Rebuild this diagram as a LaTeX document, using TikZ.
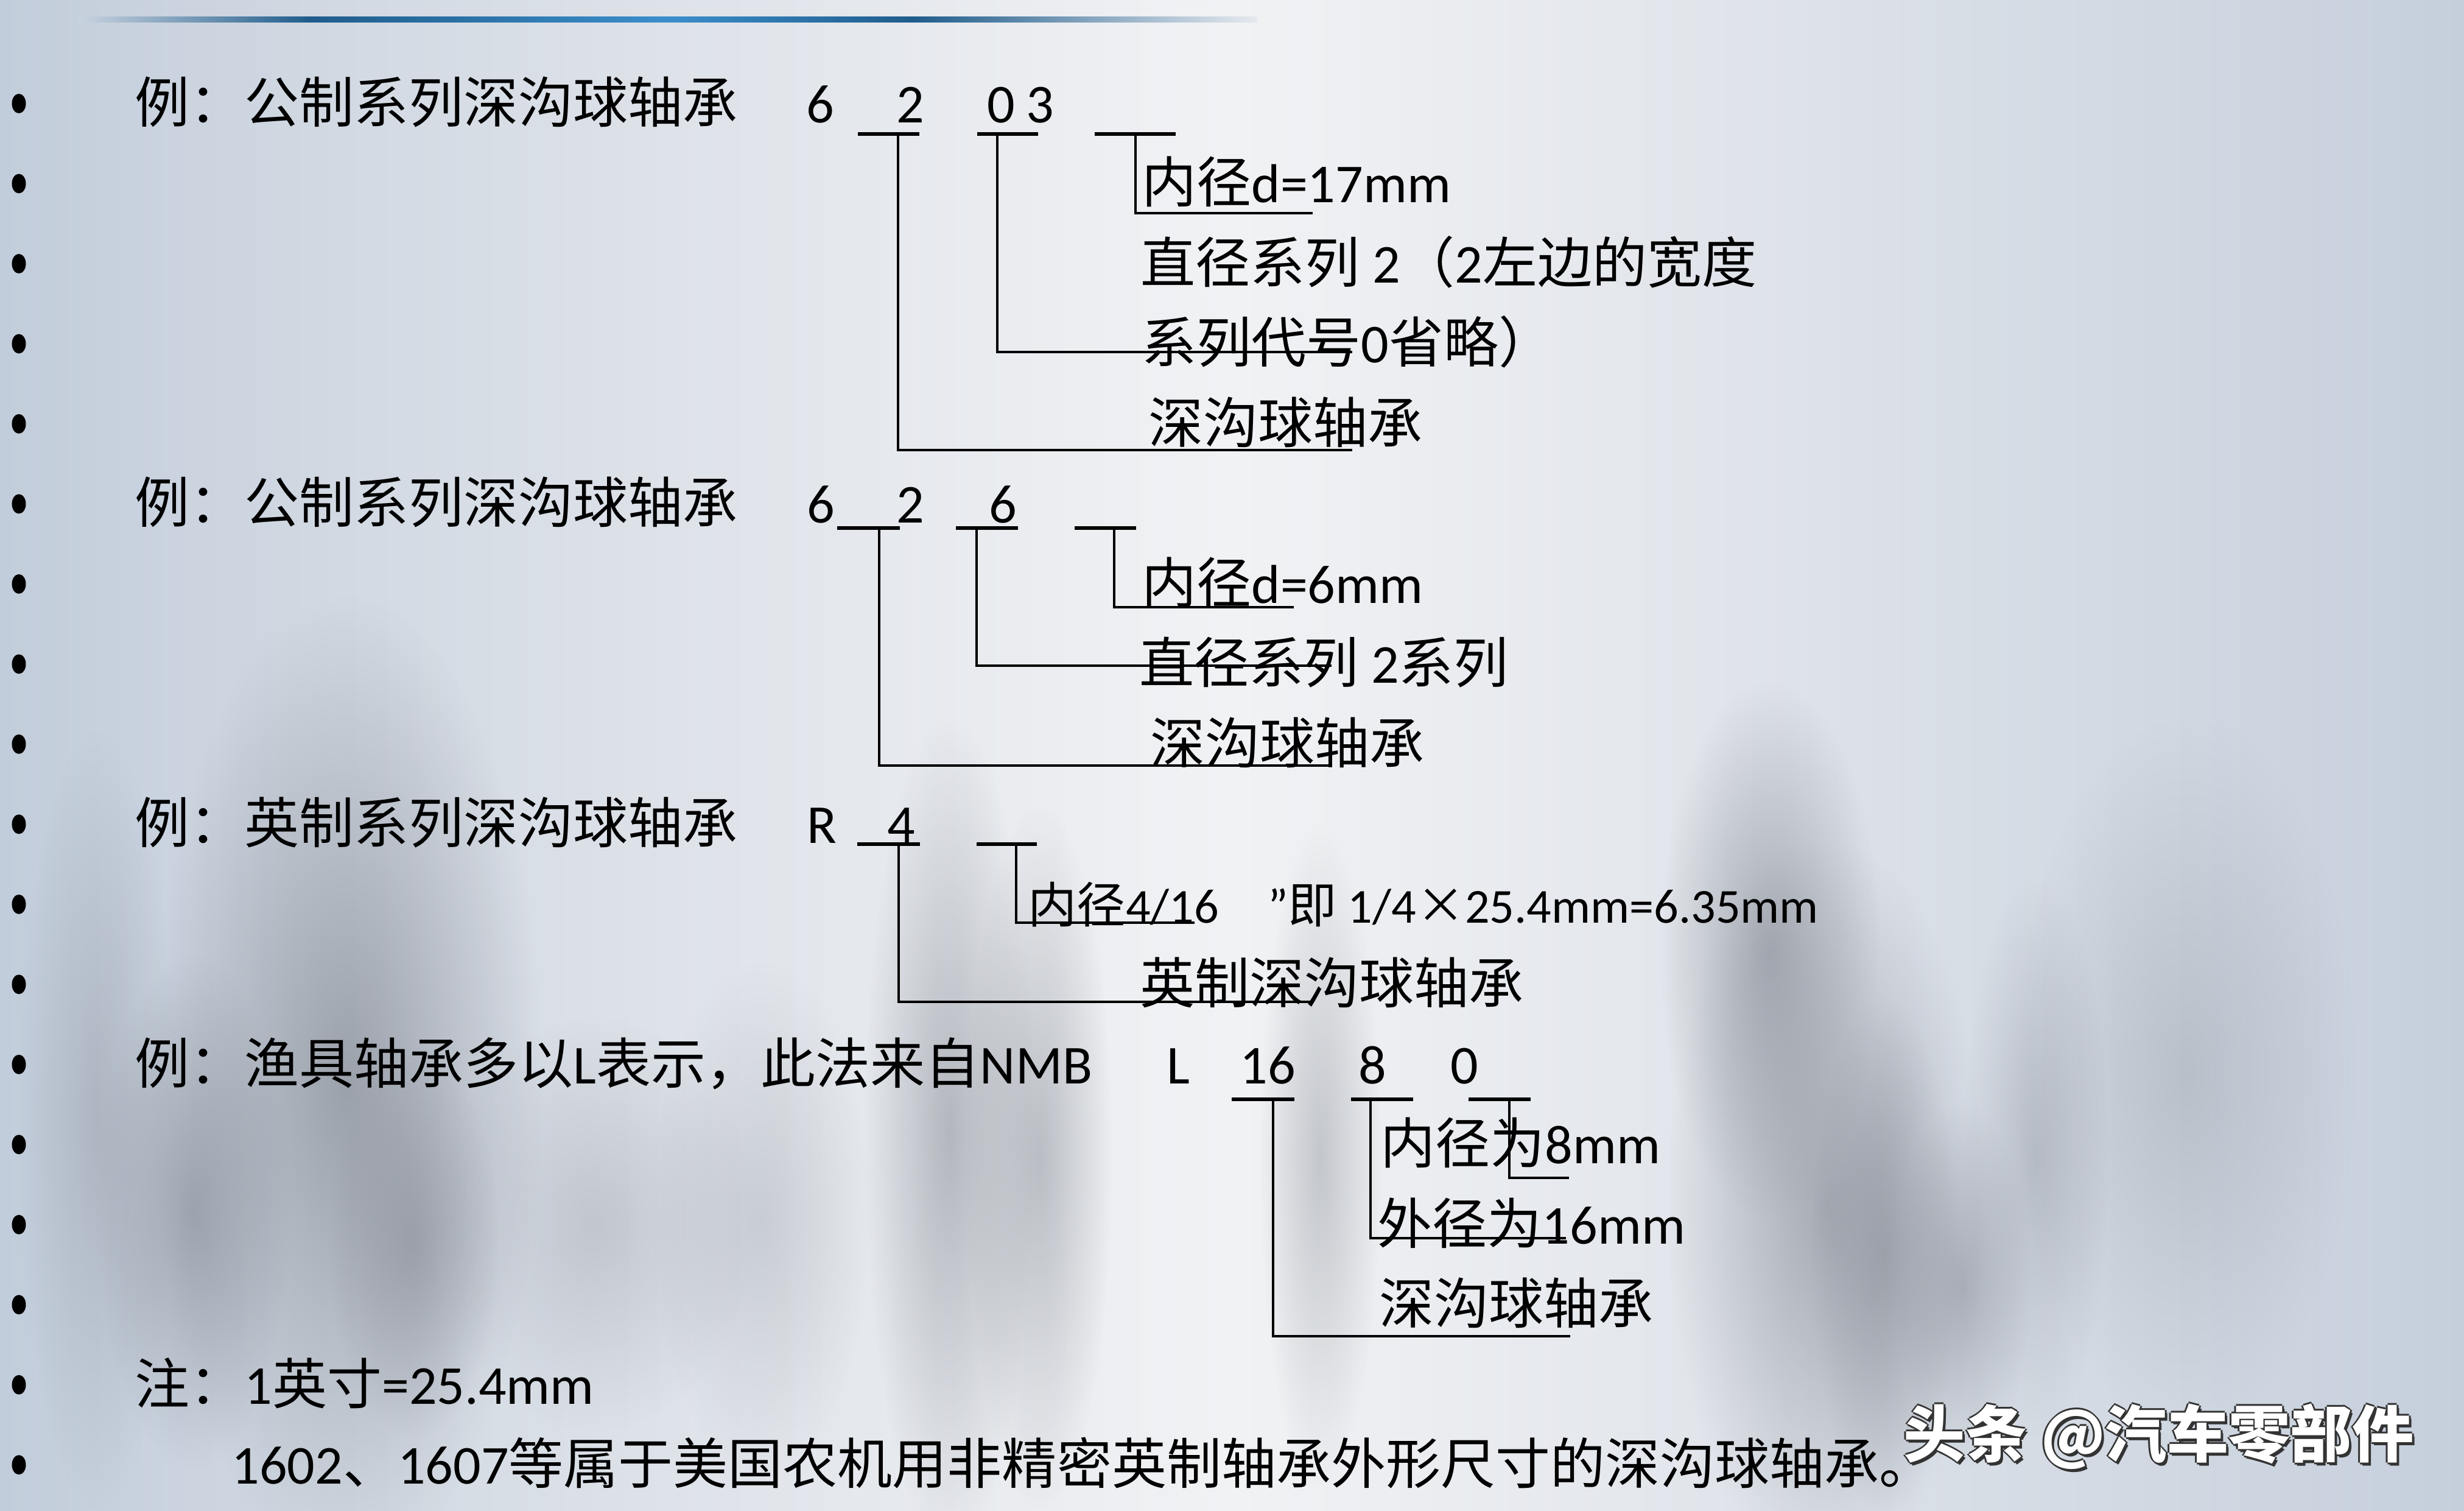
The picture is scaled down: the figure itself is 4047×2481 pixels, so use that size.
\documentclass[tikz,border=0pt]{standalone}
\usepackage{fontspec}
\setmainfont{Carlito}
\newfontfamily\zhfont{Noto Sans CJK SC}
\usetikzlibrary{fadings}
\newcommand\zh[1]{{\zhfont #1}}
\definecolor{bgL}{HTML}{C2CDDB}
\definecolor{bgA}{HTML}{D3DAE3}
\definecolor{bgB}{HTML}{E5E8ED}
\definecolor{bgC}{HTML}{F1F2F4}
\definecolor{bgR}{HTML}{C5CFDC}
\definecolor{barE}{HTML}{C9D3DF}
\definecolor{barF}{HTML}{E6EAEF}
\definecolor{barD}{HTML}{1F5C8B}
\definecolor{barM}{HTML}{3B8ECB}
\definecolor{blobcol}{HTML}{7E838D}
\pgfdeclarehorizontalshading{bgshade}{100bp}{color(0bp)=(bgL); color(25bp)=(bgL); color(32.5bp)=(bgA); color(42.5bp)=(bgB); color(50bp)=(bgC); color(57.5bp)=(bgB); color(67.5bp)=(bgA); color(75bp)=(bgR); color(100bp)=(bgR)}
\pgfdeclarehorizontalshading{barshade}{100bp}{color(0bp)=(barE); color(25bp)=(barE); color(34.8bp)=(barD); color(50bp)=(barM); color(60.4bp)=(barD); color(75bp)=(barF); color(100bp)=(barF)}
\tikzfading[name=softblob, inner color=transparent!0, outer color=transparent!100]
% blob: centre x, centre y, half width, half height, opacity (fading reaches zero at about half the box)
\newcommand\blob[5]{\fill[blobcol, opacity=#5, path fading=softblob] (#1-2*#3,#2-2*#4) rectangle (#1+2*#3,#2+2*#4);}
\newcommand\codebar[4]{\coordinate (#1l) at (#2,#4); \coordinate (#1r) at (#3,#4); \draw[barln] (#1l) -- (#1r);}
\newcommand\leader[5]{\coordinate (#1s) at (#2,#3); \coordinate (#1e) at (#4,#5); \draw[ln] (#1s) |- (#1e);}
\begin{document}
\begin{tikzpicture}[x=0.01cm, y=-0.01cm,
  txt/.style={inner sep=0pt, anchor=base west, font=\fontsize{25.6}{30}\selectfont},
  txts/.style={inner sep=0pt, anchor=base west, font=\fontsize{22.8}{27}\selectfont},
  dig/.style={inner sep=0pt, anchor=base, font=\fontsize{25.6}{30}\selectfont},
  wm/.style={inner sep=0pt, anchor=base west, font=\fontsize{28.8}{32}\selectfont\zhfont\bfseries},
  barln/.style={line width=1.75pt},
  ln/.style={line width=1.3pt}]
\useasboundingbox (0,0) rectangle (4047,2481);
% background
\shade[shading=bgshade] (0,0) rectangle (4047,2481);
% blurred figures
\begin{scope}
\clip (0,0) rectangle (4047,2481);
\blob{570}{1780}{160}{400}{0.65}
\blob{317}{1990}{80}{210}{0.55}
\blob{680}{2040}{70}{160}{0.5}
\blob{160}{1840}{65}{320}{0.35}
\blob{980}{2010}{130}{170}{0.28}
\blob{1560}{1860}{70}{340}{0.5}
\blob{1707}{1900}{60}{290}{0.45}
\blob{2168}{1900}{50}{270}{0.38}
\blob{1250}{2000}{90}{210}{0.25}
\blob{2906}{1560}{90}{220}{0.58}
\blob{3000}{1980}{130}{300}{0.58}
\blob{3095}{2060}{60}{210}{0.5}
\blob{3224}{2110}{55}{150}{0.5}
\blob{3590}{1760}{140}{290}{0.28}
\blob{3344}{1900}{60}{230}{0.35}
\end{scope}
% title bar
\shade[shading=barshade] (130,27) rectangle (2065,36);
% bullets
\foreach \i in {0,...,17}
  \fill (31,170+131.48*\i) ellipse (0.115cm and 0.16cm);
% left column
\node[txt] (l0) at (221,201) {\zh{例：公制系列深沟球轴承}};
\node[txt] (l5) at (221,858) {\zh{例：公制系列深沟球轴承}};
\node[txt] (l9) at (221,1384) {\zh{例：英制系列深沟球轴承}};
\node[txt] (l12) at (221,1779) {\zh{例：渔具轴承多以}L\zh{表示，此法来自}NMB};
\node[txt] (l16) at (221,2305) {\zh{注：}1\zh{英寸}=25.4mm};
\node[txt] (l17) at (380,2436) {1602\zh{、}1607\zh{等属于美国农机用非精密英制轴承外形尺寸的深沟球轴承。}};
% example 1 : 6 2 03
\node[dig] (a6) at (1347,201) {6};
\node[dig] (a2) at (1495,201) {2};
\node[dig] (a0) at (1644,201) {0};
\node[dig] (a3) at (1708,201) {3};
\codebar{ab1}{1409}{1510}{220}
\codebar{ab2}{1605}{1705}{220}
\codebar{ab3}{1798}{1931}{220}
\leader{al1}{1475}{220}{2221}{739}
\leader{al2}{1638}{220}{2221}{578}
\leader{al3}{1865}{220}{2156}{350}
\node[txt] (at1) at (1875,332) {\zh{内径}d=17mm};
\node[txt] (at2) at (1873,464) {\zh{直径系列} 2\zh{（}2\zh{左边的宽度}};
\node[txt] (at3) at (1875,595) {\zh{系列代号}0\zh{省略）}};
\node[txt] (at4) at (1886,727) {\zh{深沟球轴承}};
% example 2 : 6 2 6
\node[dig] (b6) at (1348,858) {6};
\node[dig] (b2) at (1495,858) {2};
\node[dig] (b6b) at (1647,858) {6};
\codebar{bb1}{1375}{1478}{867}
\codebar{bb2}{1570}{1672}{867}
\codebar{bb3}{1765}{1866}{867}
\leader{bl1}{1444}{867}{2187}{1257}
\leader{bl2}{1604}{867}{2187}{1093}
\leader{bl3}{1830}{867}{2125}{997}
\node[txt] (bt1) at (1875,990) {\zh{内径}d=6mm};
\node[txt] (bt2) at (1871,1121) {\zh{直径系列} 2\zh{系列}};
\node[txt] (bt3) at (1889,1253) {\zh{深沟球轴承}};
% example 3 : R 4
\node[dig] (cR) at (1350,1384) {R};
\node[dig] (c4) at (1480,1384) {4};
\codebar{cb1}{1408}{1511}{1386}
\codebar{cb2}{1604}{1703}{1386}
\leader{cl1}{1476}{1386}{2157}{1645}
\leader{cl2}{1669}{1386}{1962}{1515}
\node[txts] (ct1) at (1688,1515) {\zh{内径}4/16\hspace{0.8cm}”\zh{即} 1/4\zh{×}25.4mm=6.35mm};
\node[txt] (ct2) at (1872,1647) {\zh{英制深沟球轴承}};
% example 4 : L 16 8 0
\node[txt] (dL) at (1916,1779) {L};
\node[dig] (d16) at (2082,1779) {16};
\node[dig] (d8) at (2254,1779) {8};
\node[dig] (d0) at (2405,1779) {0};
\codebar{db1}{2023}{2126}{1805}
\codebar{db2}{2219}{2321}{1805}
\codebar{db3}{2412}{2514}{1805}
\leader{dl1}{2091}{1805}{2579}{2194}
\leader{dl2}{2251}{1805}{2572}{2033}
\leader{dl3}{2479}{1805}{2577}{1934}
\node[txt] (dt1) at (2267,1910) {\zh{内径为}8mm};
\node[txt] (dt2) at (2262,2042) {\zh{外径为}16mm};
\node[txt] (dt3) at (2265,2173) {\zh{深沟球轴承}};
% watermark
\foreach \dx/\dy [count=\k] in {4/5, -3/0, 3/0, 0/-3, 0/3}
  \node[wm, text=black!80] (wms\k) at (3126+\dx,2392+\dy) {头条 @汽车零部件};
\node[wm, text=white] (wm) at (3126,2392) {头条 @汽车零部件};
\end{tikzpicture}
\end{document}
